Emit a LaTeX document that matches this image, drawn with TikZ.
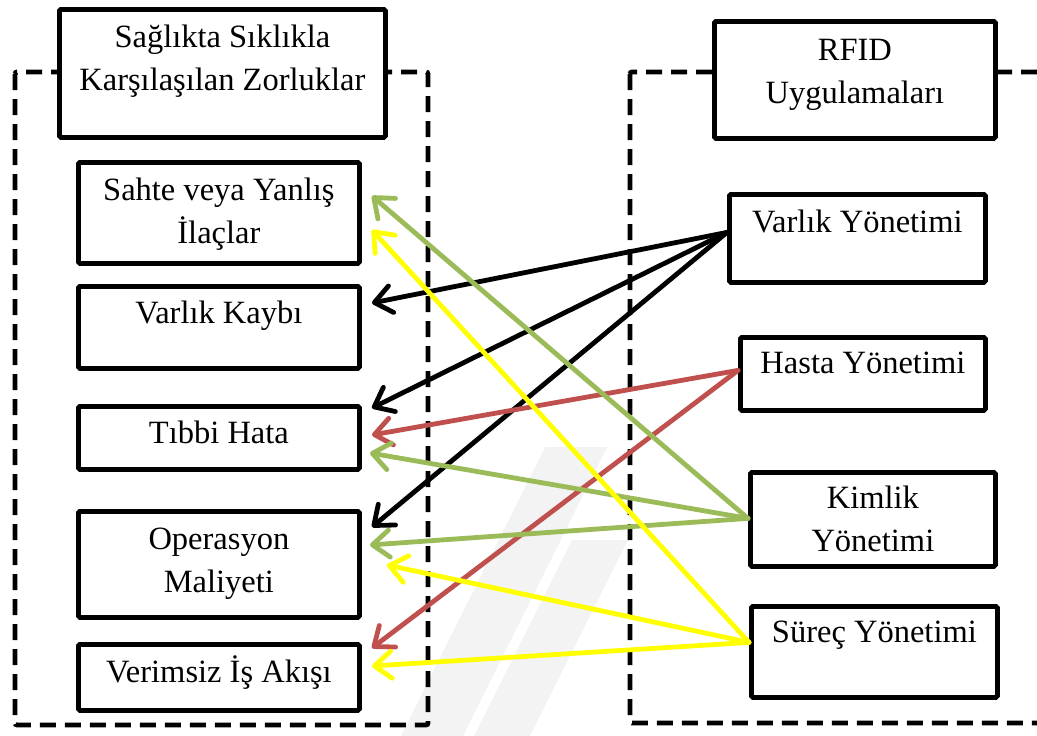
\documentclass[tikz,border=0pt]{standalone}
\usepackage{fontspec}
\setmainfont{Liberation Serif}
\usetikzlibrary{arrows.meta,calc}
\definecolor{linkgreen}{HTML}{9BBB59}
\definecolor{linkred}{HTML}{C0504D}
\definecolor{linkyellow}{HTML}{FFFF00}
\definecolor{wmark}{HTML}{F3F3F3}
\begin{document}
\begin{tikzpicture}[x=1pt,y=-1pt,
  box/.style={draw=black, line width=4.8pt, fill=white, rounded corners=1.5pt,
    inner sep=0pt, anchor=north west},
  lbl/.style={font=\fontsize{32.5}{43}\selectfont, align=center, inner sep=0pt, anchor=base},
  frame/.style={draw=black, line width=4.8pt, dash pattern=on 16pt off 9pt, rounded corners=2pt},
  link/.style={line width=4.8pt, line cap=round, line join=round,
    -{Straight Barb[length=17pt,width=27pt,round]}}
]
\useasboundingbox (0,0) rectangle (1037,736);

% faint background watermark stripes
\fill[wmark] (545,447) -- (607,447) -- (463,736) -- (401,736) -- cycle;
\fill[wmark] (572,540) -- (628,540) -- (530,736) -- (474,736) -- cycle;

% dashed group frames
\draw[frame] (15,72) rectangle (428,725);
\draw[frame] (630,72) rectangle (1060,723);

% left column: problems
\node[box, minimum width=326pt, minimum height=128pt] (head) at (57,7) {};
\node[box, minimum width=281pt, minimum height=101pt] (sahte) at (76,160) {};
\node[box, minimum width=281pt, minimum height=82pt] (kayip) at (76,284) {};
\node[box, minimum width=281pt, minimum height=63pt] (hata) at (76,404) {};
\node[box, minimum width=281pt, minimum height=106pt] (maliyet) at (76,509) {};
\node[box, minimum width=281pt, minimum height=66pt] (akis) at (76,642) {};

% right column: RFID applications
\node[box, minimum width=281pt, minimum height=117pt] (rfid) at (712,19) {};
\node[box, minimum width=256pt, minimum height=88pt] (varlik) at (727,192) {};
\node[box, minimum width=245pt, minimum height=73pt] (hasta) at (738,335) {};
\node[box, minimum width=245pt, minimum height=94pt] (kimlik) at (748,470) {};
\node[box, minimum width=246pt, minimum height=91pt] (surec) at (749,604) {};

% box texts (base = baseline of the last line)
\node[lbl] (t-head) at (head.center |- 0,90) {Sağlıkta Sıklıkla\\Karşılaşılan Zorluklar};
\node[lbl] (t-sahte) at (sahte.center |- 0,243) {Sahte veya Yanlış\\İlaçlar};
\node[lbl] (t-kayip) at (kayip.center |- 0,323) {Varlık Kaybı};
\node[lbl] (t-hata) at (hata.center |- 0,443) {Tıbbi Hata};
\node[lbl] (t-maliyet) at (maliyet.center |- 0,592) {Operasyon\\Maliyeti};
\node[lbl] (t-akis) at (akis.center |- 0,682) {Verimsiz İş Akışı};
\node[lbl] (t-rfid) at (rfid.center |- 0,103) {RFID\\Uygulamaları};
\node[lbl] (t-varlik) at (varlik.center |- 0,232) {Varlık Yönetimi};
\node[lbl] (t-hasta) at (hasta.center |- 0,373) {Hasta Yönetimi};
\node[lbl] (t-kimlik) at (kimlik.center |- 0,551) {Kimlik\\Yönetimi};
\node[lbl] (t-surec) at (surec.center |- 0,642) {Süreç Yönetimi};

% arrow end points beside the problem boxes
\coordinate (sahte-g) at (372,196);
\coordinate (sahte-y) at (372,230);
\coordinate (kayip-k) at (372,303);
\coordinate (hata-k) at (372,408);
\coordinate (hata-r) at (372,435);
\coordinate (hata-g) at (370,453);
\coordinate (maliyet-k) at (372,527);
\coordinate (maliyet-g) at (370,545);
\coordinate (maliyet-y) at (387,565);
\coordinate (akis-r) at (372,648);
\coordinate (akis-y) at (372,666);

% arrow start points on the application boxes
\coordinate (s-varlik) at ($(varlik.west)+(0,-6)$);
\coordinate (s-hasta) at ($(hasta.west)+(0,-3.5)$);
\coordinate (s-kimlik) at ($(kimlik.west)+(0,-1)$);
\coordinate (s-surec) at ($(surec.west)+(0,-9.5)$);

% links
\draw[link, black] (s-varlik) -- (kayip-k);
\draw[link, black] (s-varlik) -- (hata-k);
\draw[link, black] (s-varlik) -- (maliyet-k);
\draw[link, linkred] (s-hasta) -- (hata-r);
\draw[link, linkred] (s-hasta) -- (akis-r);
\draw[link, linkgreen] (s-kimlik) -- (sahte-g);
\draw[link, linkgreen] (s-kimlik) -- (hata-g);
\draw[link, linkgreen] (s-kimlik) -- (maliyet-g);
\draw[link, linkyellow] (s-surec) -- (sahte-y);
\draw[link, linkyellow] (s-surec) -- (maliyet-y);
\draw[link, linkyellow] (s-surec) -- (akis-y);
\end{tikzpicture}
\end{document}
